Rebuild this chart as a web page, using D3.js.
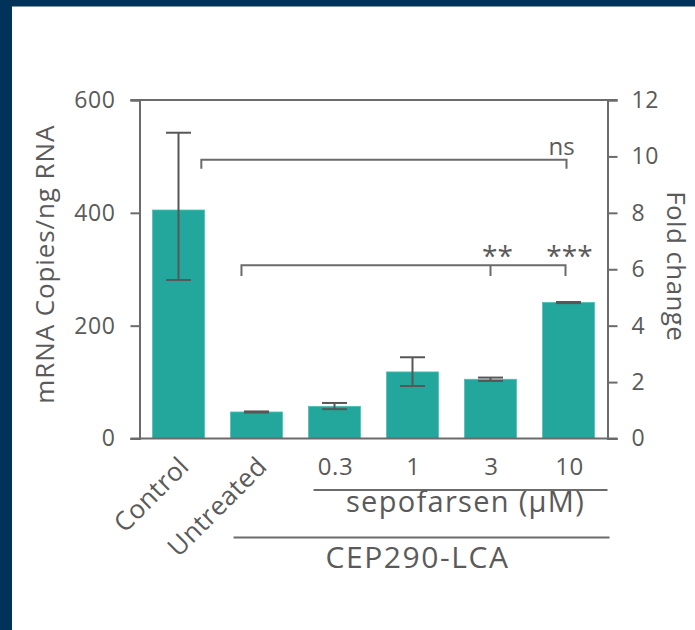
<!DOCTYPE html>
<html>
<head>
<meta charset="utf-8">
<script src="https://cdn.jsdelivr.net/npm/d3@7"></script>
<style>
  html, body { margin: 0; padding: 0; background: #ffffff; }
  svg { display: block; }
  text { font-family: "Open Sans", "Noto Sans", sans-serif; fill: #5a5a5a; }
</style>
</head>
<body>
<script>
// ---- data ----
const categories = ["Control", "Untreated", "0.3", "1", "3", "10"];
const meanCopies = [405, 47, 57, 118, 105, 241];
const errUpper   = [542, 48, 63, 144, 108, 242];
const errLower   = [281, 46, 52, 93, 102, 240];
const leftTicks  = [0, 200, 400, 600];
const rightTicks = [0, 2, 4, 6, 8, 10, 12];
const doseLabels = ["0.3", "1", "3", "10"];
const rotatedLabels = ["Control", "Untreated"];
// significance brackets: level and drop in copies units
const bracketNs = { from: "Control", to: "10", level: 494, drop: 16, label: "ns" };
const bracketStars = { from: "Untreated", marks: ["3", "10"], level: 307, drop: 19, labels: ["**", "***"] };

// ---- layout ----
const W = 695, H = 630;
const svg = d3.select("body").append("svg").attr("width", W).attr("height", H);

// navy frame
svg.append("rect").attr("x", 0).attr("y", 0).attr("width", W).attr("height", H).attr("fill", "#01335a");
svg.append("rect").attr("x", 12).attr("y", 6.5).attr("width", W - 12).attr("height", H - 6.5).attr("fill", "#ffffff");

const x0 = 139.5, x1 = 607.5, yTop = 100, yBot = 438.5;
const x = d3.scaleBand().domain(categories).range([x0, x1]).paddingInner(0.335).paddingOuter(0.1675);
const yL = d3.scaleLinear().domain([0, 600]).range([yBot, yTop]);
const yR = d3.scaleLinear().domain([0, 12]).range([yBot, yTop]);
const bw = x.bandwidth();
const cx = c => x(c) + bw / 2;

const axisColor = "#6b6b6b";
const errColor = "#575757";
const teal = "#23a79d";

// bars
svg.append("g").selectAll("rect").data(categories).join("rect")
  .attr("x", c => x(c))
  .attr("width", bw)
  .attr("y", (c, i) => yL(meanCopies[i]))
  .attr("height", (c, i) => yL(0) - yL(meanCopies[i]))
  .attr("fill", teal)
  .attr("stroke", "#4dbdb3").attr("stroke-width", 0.8);

// error bars
const capW = 25;
const eg = svg.append("g").attr("stroke", errColor).attr("stroke-width", 2);
categories.forEach((c, i) => {
  eg.append("line").attr("x1", cx(c)).attr("x2", cx(c)).attr("y1", yL(errUpper[i])).attr("y2", yL(errLower[i]));
  eg.append("line").attr("x1", cx(c) - capW / 2).attr("x2", cx(c) + capW / 2).attr("y1", yL(errUpper[i])).attr("y2", yL(errUpper[i]));
  eg.append("line").attr("x1", cx(c) - capW / 2).attr("x2", cx(c) + capW / 2).attr("y1", yL(errLower[i])).attr("y2", yL(errLower[i]));
});

// axes
const tickLen = 9;
const gL = svg.append("g").attr("transform", `translate(${x0},0)`)
  .call(d3.axisLeft(yL).tickValues(leftTicks).tickSize(tickLen).tickPadding(15).tickFormat(d3.format("d")));
const gR = svg.append("g").attr("transform", `translate(${x1},0)`)
  .call(d3.axisRight(yR).tickValues(rightTicks).tickSize(tickLen + 1).tickPadding(14).tickFormat(d3.format("d")));
[gL, gR].forEach(g => {
  g.select(".domain").attr("stroke", axisColor).attr("stroke-width", 2);
  g.selectAll(".tick line").attr("stroke", axisColor).attr("stroke-width", 2);
  g.selectAll(".tick text").attr("font-size", 23).attr("fill", "#5a5a5a")
    .style("font-family", '"Open Sans", sans-serif').style("letter-spacing", "0.6px");
});
// top and bottom frame lines
[yL(600), yL(0)].forEach(yy => {
  svg.append("line").attr("x1", x0 - tickLen).attr("x2", x1 + tickLen + 1).attr("y1", yy).attr("y2", yy)
    .attr("stroke", axisColor).attr("stroke-width", 2);
});

// axis titles
svg.append("text").attr("transform", `translate(53.5,${(yTop + yBot) / 2 - 5}) rotate(-90)`)
  .attr("text-anchor", "middle").attr("font-size", 26).style("letter-spacing", "0.9px").text("mRNA Copies/ng RNA");
svg.append("text").attr("transform", `translate(667,${(yTop + yBot) / 2 - 3}) rotate(90)`)
  .attr("text-anchor", "middle").attr("font-size", 26).style("letter-spacing", "0.4px").text("Fold change");

// significance brackets
const bg = svg.append("g").attr("stroke", axisColor).attr("stroke-width", 2).attr("fill", "none");
{
  const xa = cx(bracketNs.from) + bw * 0.44, xb = cx(bracketNs.to) - 2;
  const yb = yL(bracketNs.level), yd = yL(bracketNs.level - bracketNs.drop);
  bg.append("path").attr("d", `M${xa},${yd}V${yb}H${xb}V${yd}`);
  svg.append("text").attr("x", xb - 5).attr("y", yb - 5).attr("text-anchor", "middle")
    .attr("font-size", 24).text(bracketNs.label);
}
{
  const xa = cx(bracketStars.from) - bw * 0.29;
  const xe = cx(bracketStars.marks[bracketStars.marks.length - 1]) - 3;
  const yb = yL(bracketStars.level), yd = yL(bracketStars.level - bracketStars.drop);
  bg.append("path").attr("d", `M${xa},${yd}V${yb}H${xe}V${yd}`);
  const xm = cx(bracketStars.marks[0]);
  bg.append("path").attr("d", `M${xm},${yb}V${yd}`);
  const starX = [xm + 7, xe + 4];
  bracketStars.labels.forEach((s, i) => {
    svg.append("text").attr("x", starX[i]).attr("y", yb + 1).attr("text-anchor", "middle")
      .attr("font-size", 28).text(s);
  });
}

// rotated category labels
rotatedLabels.forEach(c => {
  svg.append("text").attr("transform", `translate(${cx(c) + 12},468) rotate(-45)`)
    .attr("text-anchor", "end").attr("font-size", 26).style("letter-spacing", "0.4px").text(c);
});
// dose labels
doseLabels.forEach(c => {
  svg.append("text").attr("x", cx(c) + 1).attr("y", 475).attr("text-anchor", "middle")
    .attr("font-size", 24).style("letter-spacing", "0.6px").text(c);
});
// group lines and labels
const sepA = x(doseLabels[0]) + 5, sepB = x1;
svg.append("line").attr("x1", sepA).attr("x2", sepB).attr("y1", 490).attr("y2", 490)
  .attr("stroke", axisColor).attr("stroke-width", 2);
svg.append("text").attr("x", (sepA + sepB) / 2 + 5).attr("y", 512).attr("text-anchor", "middle")
  .attr("font-size", 29).style("letter-spacing", "1.3px").text("sepofarsen (\u00b5M)");
const cepA = x("Untreated") + 3, cepB = x1 + 2;
svg.append("line").attr("x1", cepA).attr("x2", cepB).attr("y1", 537.5).attr("y2", 537.5)
  .attr("stroke", axisColor).attr("stroke-width", 2);
svg.append("text").attr("x", (cepA + cepB) / 2 - 4).attr("y", 568).attr("text-anchor", "middle")
  .attr("font-size", 30).style("letter-spacing", "1.6px").text("CEP290-LCA");
</script>
</body>
</html>
